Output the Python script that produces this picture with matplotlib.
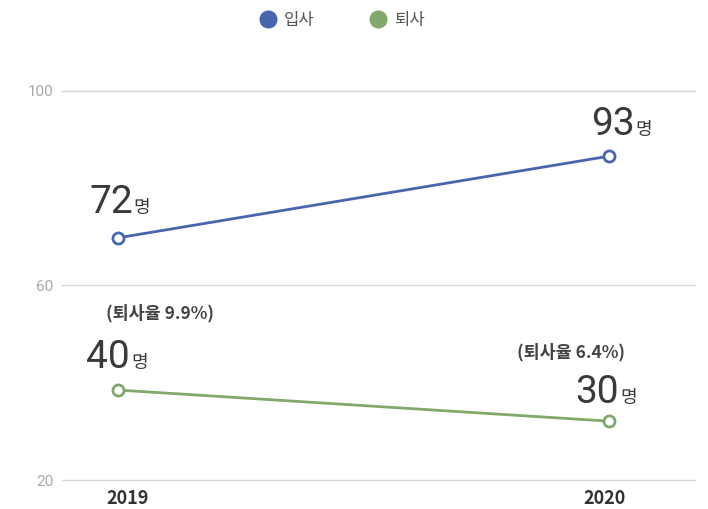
import matplotlib
matplotlib.use("Agg")
import matplotlib.pyplot as plt
from matplotlib.lines import Line2D

plt.rcParams['font.family'] = ['Noto Sans CJK KR', 'DejaVu Sans']

years = ["2019", "2020"]
series_names = ["입사", "퇴사"]
# plotted positions
hire_pos = [69.8, 86.6]
quit_pos = [38.5, 32.1]
# printed labels
hire_labels = ["72", "93"]
quit_labels = ["40", "30"]
unit = "명"
rate_labels = ["(퇴사율 9.9%)", "(퇴사율 6.4%)"]
yticks = [20, 60, 100]

blue = "#4866ad"
green = "#80a96b"
txt = "#3a3a3a"
num_font = 'Roboto'

fig = plt.figure(figsize=(7.08, 5.09), dpi=100)
W, H = 708, 509
ax = fig.add_axes([62 / W, 1 - 480 / H, (695 - 62) / W, (480 - 91) / H])

x = list(range(len(years)))
ax.set_xlim(-0.114, 1.175)
ax.set_ylim(20, 100)
ax.set_yticks(yticks)
ax.set_yticklabels([str(v) for v in yticks], color="#a8a8a8", fontsize=11, family=num_font)
ax.tick_params(axis='y', length=0, pad=6)
ax.set_xticks([])
for s in ax.spines.values():
    s.set_visible(False)
ax.grid(axis='y', color="#d6d6d6", linewidth=1)
for gl in ax.get_ygridlines():
    gl.set_clip_on(False)
ax.set_axisbelow(True)

for vals, col in [(hire_pos, blue), (quit_pos, green)]:
    ax.plot(x, vals, color=col, linewidth=2, marker='o', markersize=8,
            markerfacecolor='white', markeredgecolor=col, markeredgewidth=2, zorder=3)

# value labels: (number right-edge offset, unit left offset, baseline offset up) in pixels
hire_off = [(15, 15, 25), (26, 26, 21)]
quit_off = [(12, 13, 22), (10, 11, 18)]
for vals, labs, offs in [(hire_pos, hire_labels, hire_off), (quit_pos, quit_labels, quit_off)]:
    for xi, v, lab, (nx, ux, dy) in zip(x, vals, labs, offs):
        ax.annotate(lab, xy=(xi, v), xytext=(nx, dy), textcoords='offset pixels',
                    ha='right', va='baseline', fontsize=28, color=txt, family=num_font)
        ax.annotate(unit, xy=(xi, v), xytext=(ux, dy), textcoords='offset pixels',
                    ha='left', va='baseline', fontsize=13, color=txt)

rate_off = [(42, 77), (-38, 69)]
for xi, v, lab, (dx, dy) in zip(x, quit_pos, rate_labels, rate_off):
    ax.annotate(lab, xy=(xi, v), xytext=(dx, dy), textcoords='offset pixels',
                ha='center', va='center', fontsize=12.5, fontweight='bold', color="#444444")

# year labels
year_px = [128, 605]
for lab, px in zip(years, year_px):
    fig.text(px / W, 1 - 498 / H, lab, ha='center', va='center', fontsize=13,
             fontweight='bold', color="#333333")

handles = [Line2D([], [], linestyle='none', marker='o', markersize=12,
                  markerfacecolor=c, markeredgecolor=c) for c in (blue, green)]
fig.legend(handles, series_names, loc='center', bbox_to_anchor=(342 / W, 1 - 20 / H),
           ncol=2, frameon=False, fontsize=12, labelcolor="#555555",
           handletextpad=0.45, columnspacing=3.3, handlelength=1.0)

fig.savefig("out.png", dpi=100)
